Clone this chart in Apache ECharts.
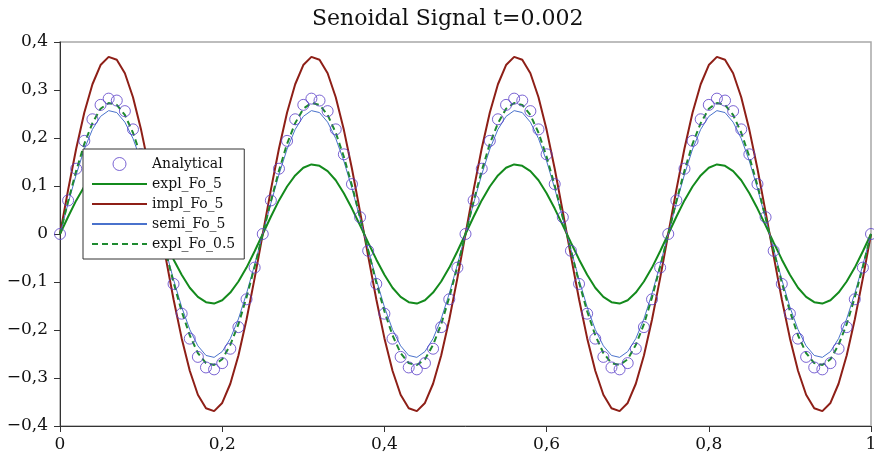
<!DOCTYPE html>
<html>
<head>
<meta charset="utf-8">
<script src="https://cdn.jsdelivr.net/npm/echarts@6/dist/echarts.min.js"></script>
<style>html,body{margin:0;padding:0;background:#fff}#c{width:874px;height:466px}</style>
</head>
<body>
<div id="c"></div>
<script>
const titleText = 'Senoidal Signal t=0.002';
const seriesNames = ['Analytical', 'expl_Fo_5', 'impl_Fo_5', 'semi_Fo_5', 'expl_Fo_0.5'];
const xTicks = [0, 0.2, 0.4, 0.6, 0.8, 1];
const yTicks = [-0.4, -0.3, -0.2, -0.1, 0, 0.1, 0.2, 0.3, 0.4];

const xs = [
0,0.01,0.02,0.03,0.04,0.05,0.06,0.07,0.08,0.09,
0.10,0.11,0.12,0.13,0.14,0.15,0.16,0.17,0.18,0.19,
0.20,0.21,0.22,0.23,0.24,0.25,0.26,0.27,0.28,0.29,
0.30,0.31,0.32,0.33,0.34,0.35,0.36,0.37,0.38,0.39,
0.40,0.41,0.42,0.43,0.44,0.45,0.46,0.47,0.48,0.49,
0.50,0.51,0.52,0.53,0.54,0.55,0.56,0.57,0.58,0.59,
0.60,0.61,0.62,0.63,0.64,0.65,0.66,0.67,0.68,0.69,
0.70,0.71,0.72,0.73,0.74,0.75,0.76,0.77,0.78,0.79,
0.80,0.81,0.82,0.83,0.84,0.85,0.86,0.87,0.88,0.89,
0.90,0.91,0.92,0.93,0.94,0.95,0.96,0.97,0.98,0.99,
1.00];

const analytical = [
0,0.070,0.136,0.194,0.239,0.269,0.282,0.278,0.256,0.218,0.166,0.104,0.035,-0.035,-0.104,-0.166,-0.218,-0.256,-0.278,-0.282,-0.269,-0.239,-0.194,-0.136,-0.070,
0,0.070,0.136,0.194,0.239,0.269,0.282,0.278,0.256,0.218,0.166,0.104,0.035,-0.035,-0.104,-0.166,-0.218,-0.256,-0.278,-0.282,-0.269,-0.239,-0.194,-0.136,-0.070,
0,0.070,0.136,0.194,0.239,0.269,0.282,0.278,0.256,0.218,0.166,0.104,0.035,-0.035,-0.104,-0.166,-0.218,-0.256,-0.278,-0.282,-0.269,-0.239,-0.194,-0.136,-0.070,
0,0.070,0.136,0.194,0.239,0.269,0.282,0.278,0.256,0.218,0.166,0.104,0.035,-0.035,-0.104,-0.166,-0.218,-0.256,-0.278,-0.282,-0.269,-0.239,-0.194,-0.136,-0.070,
0];

const explFo5 = [
0,0.036,0.070,0.099,0.122,0.138,0.145,0.142,0.131,0.112,0.085,0.053,0.018,-0.018,-0.053,-0.085,-0.112,-0.131,-0.142,-0.145,-0.138,-0.122,-0.099,-0.070,-0.036,
0,0.036,0.070,0.099,0.122,0.138,0.145,0.142,0.131,0.112,0.085,0.053,0.018,-0.018,-0.053,-0.085,-0.112,-0.131,-0.142,-0.145,-0.138,-0.122,-0.099,-0.070,-0.036,
0,0.036,0.070,0.099,0.122,0.138,0.145,0.142,0.131,0.112,0.085,0.053,0.018,-0.018,-0.053,-0.085,-0.112,-0.131,-0.142,-0.145,-0.138,-0.122,-0.099,-0.070,-0.036,
0,0.036,0.070,0.099,0.122,0.138,0.145,0.142,0.131,0.112,0.085,0.053,0.018,-0.018,-0.053,-0.085,-0.112,-0.131,-0.142,-0.145,-0.138,-0.122,-0.099,-0.070,-0.036,
0];

const implFo5 = [
0,0.092,0.178,0.253,0.312,0.352,0.369,0.363,0.335,0.285,0.217,0.136,0.046,-0.046,-0.136,-0.217,-0.285,-0.335,-0.363,-0.369,-0.352,-0.312,-0.253,-0.178,-0.092,
0,0.092,0.178,0.253,0.312,0.352,0.369,0.363,0.335,0.285,0.217,0.136,0.046,-0.046,-0.136,-0.217,-0.285,-0.335,-0.363,-0.369,-0.352,-0.312,-0.253,-0.178,-0.092,
0,0.092,0.178,0.253,0.312,0.352,0.369,0.363,0.335,0.285,0.217,0.136,0.046,-0.046,-0.136,-0.217,-0.285,-0.335,-0.363,-0.369,-0.352,-0.312,-0.253,-0.178,-0.092,
0,0.092,0.178,0.253,0.312,0.352,0.369,0.363,0.335,0.285,0.217,0.136,0.046,-0.046,-0.136,-0.217,-0.285,-0.335,-0.363,-0.369,-0.352,-0.312,-0.253,-0.178,-0.092,
0];

const semiFo5 = [
0,0.064,0.124,0.177,0.218,0.245,0.257,0.253,0.233,0.199,0.152,0.095,0.032,-0.032,-0.095,-0.152,-0.199,-0.233,-0.253,-0.257,-0.245,-0.218,-0.177,-0.124,-0.064,
0,0.064,0.124,0.177,0.218,0.245,0.257,0.253,0.233,0.199,0.152,0.095,0.032,-0.032,-0.095,-0.152,-0.199,-0.233,-0.253,-0.257,-0.245,-0.218,-0.177,-0.124,-0.064,
0,0.064,0.124,0.177,0.218,0.245,0.257,0.253,0.233,0.199,0.152,0.095,0.032,-0.032,-0.095,-0.152,-0.199,-0.233,-0.253,-0.257,-0.245,-0.218,-0.177,-0.124,-0.064,
0,0.064,0.124,0.177,0.218,0.245,0.257,0.253,0.233,0.199,0.152,0.095,0.032,-0.032,-0.095,-0.152,-0.199,-0.233,-0.253,-0.257,-0.245,-0.218,-0.177,-0.124,-0.064,
0];

const explFo05 = [
0,0.068,0.132,0.188,0.231,0.261,0.273,0.269,0.248,0.211,0.161,0.101,0.034,-0.034,-0.101,-0.161,-0.211,-0.248,-0.269,-0.273,-0.261,-0.231,-0.188,-0.132,-0.068,
0,0.068,0.132,0.188,0.231,0.261,0.273,0.269,0.248,0.211,0.161,0.101,0.034,-0.034,-0.101,-0.161,-0.211,-0.248,-0.269,-0.273,-0.261,-0.231,-0.188,-0.132,-0.068,
0,0.068,0.132,0.188,0.231,0.261,0.273,0.269,0.248,0.211,0.161,0.101,0.034,-0.034,-0.101,-0.161,-0.211,-0.248,-0.269,-0.273,-0.261,-0.231,-0.188,-0.132,-0.068,
0,0.068,0.132,0.188,0.231,0.261,0.273,0.269,0.248,0.211,0.161,0.101,0.034,-0.034,-0.101,-0.161,-0.211,-0.248,-0.269,-0.273,-0.261,-0.231,-0.188,-0.132,-0.068,
0];

const FONT = 'DejaVu Serif';
const pair = arr => xs.map((x, i) => [x, arr[i]]);
const fmt = v => {
  if (Math.abs(v) < 1e-9) return '0';
  const s = Math.abs(v) >= 0.999 ? String(Math.round(Math.abs(v))) : Math.abs(v).toFixed(1).replace('.', ',');
  return (v < 0 ? '\u2212' : '') + s;
};

const chart = echarts.init(document.getElementById('c'), null, {renderer: 'canvas'});
const lineSeries = (name, arr, color, width, type) => ({
  name, type: 'line', data: pair(arr), symbol: 'none', showSymbol: false,
  lineStyle: {color, width, type: type || 'solid'}, itemStyle: {color},
  animation: false, z: 2
});

chart.setOption({
  animation: false,
  backgroundColor: '#fff',
  title: {
    text: titleText, left: 307, top: 3,
    textStyle: {fontFamily: FONT, fontWeight: 'normal', fontSize: 22, color: '#111'}
  },
  grid: {left: 60, right: 3, top: 42, bottom: 40, containLabel: false, outerBoundsMode: 'none',
         show: true, borderColor: '#a8a8a8', borderWidth: 1.5, backgroundColor: 'transparent'},
  legend: {
    z: 20, zlevel: 0,
    orient: 'vertical', left: 83, top: 149,
    data: seriesNames.map((n, i) => i === 0 ? {name: n, itemStyle: {borderWidth: 1}} : {name: n, itemStyle: {opacity: 0}}),
    itemWidth: 55, itemHeight: 13, itemGap: 6,
    padding: [8, 9, 8, 8],
    backgroundColor: '#fff', borderColor: '#333', borderWidth: 1, borderRadius: 0,
    textStyle: {fontFamily: FONT, fontSize: 14, color: '#111'}
  },
  xAxis: {
    type: 'value', min: 0, max: 1, interval: 0.2,
    axisLine: {onZero: false, lineStyle: {color: '#333', width: 1}},
    axisTick: {show: true, length: 6, lineStyle: {color: '#333'}},
    splitLine: {show: false},
    axisLabel: {formatter: fmt, fontFamily: FONT, fontSize: 17, color: '#111', margin: 10}
  },
  yAxis: {
    type: 'value', min: -0.4, max: 0.4, interval: 0.1,
    axisLine: {show: true, onZero: false, lineStyle: {color: '#333', width: 1}},
    axisTick: {show: true, length: 6, lineStyle: {color: '#333'}},
    splitLine: {show: false},
    axisLabel: {formatter: fmt, fontFamily: FONT, fontSize: 17, color: '#111', margin: 12}
  },
  series: [
    {
      name: 'Analytical', type: 'scatter', data: pair(analytical),
      symbol: 'circle', symbolSize: 11,
      itemStyle: {color: 'rgba(255,255,255,0)', borderColor: '#5a3fc8', borderWidth: 1},
      z: 5, animation: false
    },
    lineSeries('expl_Fo_5', explFo5, '#138a1c', 2),
    lineSeries('impl_Fo_5', implFo5, '#8e1f17', 2),
    lineSeries('semi_Fo_5', semiFo5, '#4a72cc', 1),
    lineSeries('expl_Fo_0.5', explFo05, '#1e8a30', 2, [6, 4])
  ]
});
</script>
</body>
</html>
